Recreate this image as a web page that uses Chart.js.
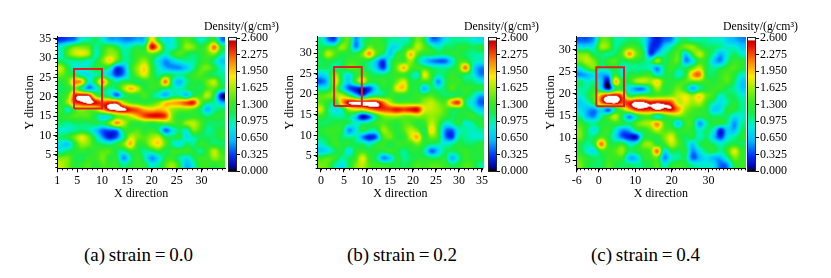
<!DOCTYPE html>
<html>
<head>
<meta charset="utf-8">
<title>Density maps</title>
<script src="https://cdn.jsdelivr.net/npm/chart.js@4/dist/chart.umd.min.js"></script>
<style>
    html, body { margin: 0; padding: 0; background: #fff; overflow: hidden; }
    canvas { position: absolute; top: 0; }
    .caption { position: absolute; top: 244px; font: 19px "Liberation Serif", serif; word-spacing: -1px; color: #000; white-space: nowrap; }
</style>
</head>
<body>
<div class="caption" style="left:84px">(a) strain = 0.0</div>
<div class="caption" style="left:347px">(b) strain = 0.2</div>
<div class="caption" style="left:591px">(c) strain = 0.4</div>
<script>
// density, rows go top to bottom
const densityA = [
    [0.3,0.4,0.5,0.9,1.0,1.1,0.9,0.6,0.6,0.5,0.5,0.6,0.7,1.9,1.2,0.8,0.9,1.2,1.4,1.2,0.9,1.1,1.3,0.5],
    [0.9,1.2,1.5,1.5,1.4,1.0,1.2,1.4,1.2,0.9,1.0,1.2,1.2,2.5,1.9,1.0,0.9,1.2,1.6,1.5,1.2,1.5,2.2,1.2],
    [0.9,1.4,1.7,1.8,1.6,0.9,1.3,1.6,1.5,1.0,1.1,1.3,1.3,1.4,1.2,0.9,1.2,1.4,1.2,1.1,1.2,1.4,1.5,1.0],
    [1.1,1.0,1.0,1.0,0.9,1.1,1.5,1.9,1.4,1.0,1.1,1.4,1.6,1.2,0.8,0.5,0.7,0.9,1.0,1.0,1.2,1.3,1.0,0.7],
    [1.7,1.2,0.9,0.9,1.0,1.2,1.2,1.0,0.3,0.5,1.2,1.6,1.9,1.3,0.9,0.6,0.5,0.5,0.7,1.0,1.4,1.5,1.2,0.9],
    [1.5,1.3,1.2,0.9,0.8,1.0,1.0,0.7,0.3,0.5,1.1,1.5,1.8,1.3,1.0,1.2,1.1,1.0,1.1,1.3,1.4,1.2,1.1,1.0],
    [1.2,1.4,2.1,2.0,0.9,1.3,2.1,1.3,1.0,1.2,1.2,1.1,1.2,1.3,1.3,2.2,1.0,0.6,1.0,1.2,1.2,1.5,1.7,1.1],
    [1.1,1.2,1.5,1.0,0.5,0.8,1.2,1.0,1.1,1.6,2.0,1.7,1.2,1.3,1.2,1.1,1.0,0.9,1.1,1.2,1.1,1.4,1.4,1.1],
    [1.2,1.4,2.4,2.55,2.5,1.5,1.2,1.0,0.4,1.0,1.2,1.2,1.4,1.1,0.9,0.6,1.0,1.0,0.7,1.2,1.3,1.7,1.1,0.1],
    [1.2,1.6,2.3,2.5,2.65,2.5,2.3,2.4,2.4,1.7,1.4,1.3,1.2,1.3,1.5,1.9,2.0,2.1,2.3,2.4,1.5,1.1,1.0,0.6],
    [1.3,0.9,1.4,1.6,1.5,1.6,2.1,2.55,2.65,2.65,2.4,2.25,2.0,1.9,2.0,1.9,1.6,1.5,1.5,1.4,1.1,0.6,1.0,1.1],
    [1.2,1.3,1.4,1.4,1.4,1.1,0.8,0.9,1.4,1.5,1.7,2.0,2.3,2.45,2.45,2.3,1.5,1.2,1.2,1.3,1.2,1.1,1.2,1.2],
    [1.1,1.0,1.1,1.1,1.1,1.2,1.1,1.5,2.1,1.7,1.3,1.2,1.3,1.2,1.3,1.4,1.4,1.3,1.6,1.7,1.4,1.1,1.1,1.1],
    [0.9,0.9,1.0,1.1,1.0,0.7,0.4,0.4,0.5,1.2,1.3,1.4,1.2,1.3,1.1,0.4,0.8,1.1,0.9,1.5,1.3,1.0,1.1,1.2],
    [1.1,1.2,1.5,1.8,1.5,1.0,0.5,0.2,0.4,1.0,1.7,1.5,1.4,1.6,1.7,1.2,1.1,1.2,0.8,1.0,1.1,1.1,1.1,1.2],
    [0.8,0.7,1.2,1.6,1.5,1.2,1.1,1.0,1.2,1.5,2.0,1.3,1.3,1.7,1.9,1.4,1.0,0.8,1.1,1.0,1.3,1.2,1.1,1.1],
    [0.9,1.1,1.2,1.3,1.2,1.3,1.4,1.4,1.1,1.0,1.3,1.2,1.0,1.1,1.3,1.1,1.3,1.3,1.3,1.2,1.0,1.3,1.7,1.3],
    [1.5,1.5,1.2,1.1,1.3,1.3,1.5,1.2,1.2,0.5,1.0,1.3,1.0,0.5,0.8,1.2,1.3,1.0,0.8,1.1,1.3,1.3,1.6,1.4],
    [1.7,1.5,1.2,1.3,1.4,1.2,1.4,1.3,1.3,1.0,1.2,1.3,1.2,0.9,1.0,1.4,1.6,1.2,0.6,0.9,1.3,1.3,1.2,1.3]
];
const densityB = [
    [1.0,0.5,0.4,1.2,1.4,0.5,1.0,1.2,1.3,1.2,1.0,1.0,0.9,1.1,1.5,1.2,0.5,0.5,0.8,1.0,1.0,1.0,0.9,0.8],
    [1.1,1.2,1.2,1.6,1.3,0.5,1.0,1.5,1.3,1.3,0.8,0.8,1.1,1.3,1.7,1.4,1.1,0.9,1.1,1.1,1.2,1.2,1.1,1.2],
    [1.2,1.7,1.4,1.2,1.2,1.2,1.5,2.1,1.4,1.1,0.7,1.2,1.3,2.0,1.4,1.2,1.2,1.1,1.1,1.2,1.2,1.1,1.0,1.0],
    [1.1,1.2,1.1,1.1,1.3,1.3,1.2,1.1,0.7,0.3,1.0,1.3,1.3,1.6,1.1,0.7,0.5,0.4,0.4,0.8,1.3,1.3,1.0,0.9],
    [1.1,1.1,1.0,1.1,1.4,1.4,1.2,1.0,0.7,0.3,1.0,1.5,2.0,1.4,1.3,1.3,1.1,1.0,1.0,1.1,1.4,2.2,0.9,0.5],
    [0.7,0.9,1.6,1.1,0.8,1.2,1.4,1.2,1.1,1.1,1.2,1.3,1.3,1.1,0.9,1.8,1.3,1.0,1.1,1.3,1.2,1.1,0.9,0.5],
    [0.4,0.7,1.8,1.1,0.7,1.3,1.8,1.2,1.2,1.3,1.2,1.5,1.8,1.2,1.2,1.3,1.2,0.5,1.1,1.3,1.3,1.1,1.1,0.9],
    [0.9,1.0,1.5,0.9,0.4,0.2,0.15,0.3,0.8,1.2,1.2,1.8,1.9,1.2,1.2,0.6,1.1,1.0,1.1,1.4,1.2,1.3,1.2,1.2],
    [1.4,1.5,1.6,1.7,1.3,0.8,0.4,0.9,1.1,1.1,1.3,1.2,1.2,1.2,1.3,1.3,1.4,1.2,1.1,1.1,1.2,1.2,1.0,0.6],
    [1.4,1.2,1.1,2.0,2.55,2.65,2.65,2.65,2.6,2.2,1.7,1.4,1.4,1.4,1.4,1.6,1.7,1.5,1.4,2.1,2.3,1.1,0.8,0.4],
    [1.7,1.1,0.8,1.0,1.6,1.8,1.8,2.1,2.3,2.35,2.35,2.45,2.35,2.45,2.5,1.8,1.7,1.6,1.4,1.2,1.2,1.2,1.0,0.7],
    [1.3,1.1,1.0,1.0,1.1,0.7,0.1,0.4,1.1,1.5,1.6,1.6,1.5,1.5,1.6,1.5,1.6,1.5,1.3,1.1,1.2,1.2,1.3,1.1],
    [1.1,1.1,1.2,1.2,1.1,0.9,1.0,1.1,1.3,1.4,1.3,1.2,1.4,1.4,1.2,1.3,1.7,1.4,0.9,1.0,1.2,0.9,1.0,1.2],
    [1.2,1.3,1.3,1.2,0.5,0.8,1.2,1.0,1.0,1.6,1.4,1.2,1.4,1.7,1.5,1.1,1.9,1.3,0.5,0.4,0.9,1.0,0.9,1.0],
    [1.1,1.2,1.3,1.1,1.0,1.0,0.5,0.2,0.4,1.3,1.5,1.2,1.2,1.7,2.0,1.2,1.5,1.3,0.5,0.3,1.0,1.0,0.9,0.9],
    [0.9,1.1,1.3,1.2,1.2,1.1,1.1,0.9,1.2,1.3,1.1,1.3,1.3,1.3,1.5,1.2,1.1,1.0,0.9,1.0,1.2,1.1,1.1,1.2],
    [0.7,0.8,1.1,1.2,0.8,1.2,1.3,1.2,1.2,1.2,1.3,1.2,1.0,1.2,1.2,1.0,0.4,0.7,1.1,1.1,1.2,1.3,1.2,1.2],
    [1.3,1.4,1.3,1.0,1.1,1.3,1.8,1.3,1.1,0.5,0.7,1.2,1.0,1.1,1.2,1.2,1.1,1.1,1.2,0.6,1.0,1.3,1.2,1.2],
    [1.5,1.4,1.0,0.8,1.1,1.5,1.7,1.4,1.3,1.3,1.2,1.2,1.1,1.2,1.4,1.3,1.4,1.4,1.3,1.1,1.2,1.4,1.3,1.0]
];
const densityC = [
    [0.4,0.4,0.6,1.4,1.4,1.0,1.0,1.1,1.1,0.9,0.4,0.2,0.4,0.5,1.0,1.1,1.0,1.0,1.0,0.9,0.9,0.7,0.6,0.5],
    [0.8,0.8,0.9,1.6,1.5,1.0,1.2,1.4,1.3,1.0,0.3,0.3,0.7,1.0,1.3,1.5,1.6,1.3,1.1,1.1,1.0,0.9,0.9,0.7],
    [1.5,1.5,1.1,1.1,1.0,1.1,1.4,2.1,1.5,1.2,0.3,0.7,1.0,1.2,1.4,0.7,1.3,1.7,1.3,1.0,0.6,0.9,1.1,0.9],
    [1.5,1.7,1.5,1.1,1.3,1.4,1.1,1.2,1.2,1.1,1.0,1.6,1.1,1.3,1.4,0.5,0.8,1.3,1.2,0.7,0.5,1.0,1.3,1.2],
    [0.9,1.3,1.5,1.0,1.1,1.2,0.9,1.0,1.0,1.0,0.9,0.5,1.1,1.3,1.1,1.1,1.4,1.7,1.2,1.0,1.1,1.3,1.4,1.2],
    [0.5,0.6,0.8,0.6,0.6,1.3,0.9,1.2,1.2,1.3,1.3,0.9,1.1,1.2,0.9,1.2,2.0,2.2,1.2,1.1,1.3,1.4,1.2,0.9],
    [1.1,0.9,1.0,0.7,0.1,2.0,1.2,1.2,1.6,1.7,1.6,1.9,1.3,1.2,1.3,1.4,1.4,1.4,1.3,1.2,1.3,1.4,1.1,0.7],
    [1.0,1.0,1.2,0.8,0.15,1.1,1.2,0.8,0.5,0.5,1.1,1.6,1.2,1.3,1.5,1.2,0.6,1.0,1.2,1.3,1.3,1.1,1.0,0.7],
    [0.9,1.1,1.4,2.1,2.5,2.55,2.2,1.2,1.3,1.4,1.3,1.4,1.4,1.5,1.7,1.8,1.6,1.9,1.5,1.3,0.9,1.1,1.1,0.9],
    [0.7,0.9,1.3,2.2,2.6,2.65,2.3,2.4,2.65,2.6,2.45,2.5,2.45,2.3,1.7,1.8,1.6,1.7,1.3,1.0,0.8,1.0,1.2,1.0],
    [0.8,0.6,0.5,0.8,0.4,1.1,1.5,2.0,2.4,2.45,2.4,2.6,2.45,2.5,2.1,1.6,1.4,1.3,1.2,0.7,0.8,1.2,1.2,1.0],
    [1.0,0.6,0.5,1.0,1.3,1.7,1.1,0.5,1.0,1.3,1.3,0.8,1.2,1.4,1.5,1.4,1.3,1.2,1.2,1.1,1.1,1.1,0.8,0.9],
    [1.3,1.1,1.0,1.2,1.2,1.3,1.2,1.1,1.4,1.6,1.7,2.1,1.4,1.2,0.7,1.3,1.3,0.5,1.0,1.2,1.2,1.0,0.5,1.0],
    [1.5,1.1,0.8,1.2,1.3,0.9,0.5,0.6,1.1,1.2,1.4,1.7,1.4,1.4,1.2,1.3,1.2,0.9,1.1,0.9,0.2,0.7,0.6,1.1],
    [1.5,1.1,1.1,1.4,1.2,0.8,0.4,0.2,0.15,1.1,1.2,1.2,1.5,1.8,1.3,1.1,1.2,0.9,1.1,0.7,0.3,0.8,1.0,1.2],
    [1.2,1.0,1.2,2.2,1.3,1.2,1.3,0.9,1.0,1.5,1.6,1.2,1.3,1.7,1.4,1.1,0.7,1.1,1.2,1.1,0.9,1.1,1.2,1.1],
    [1.2,0.9,0.8,1.3,1.3,1.4,1.6,1.1,1.2,1.3,1.4,2.2,0.8,1.2,1.1,1.2,0.5,0.8,1.1,1.2,1.0,1.3,1.8,1.3],
    [1.4,1.2,1.1,1.1,1.3,1.3,1.3,0.6,0.7,1.2,1.3,1.4,0.5,0.9,1.0,1.1,0.4,0.6,0.8,0.6,0.6,1.0,1.5,1.3],
    [1.5,1.2,1.1,1.1,1.4,1.2,1.1,1.1,1.0,1.1,1.2,1.4,0.9,1.2,1.3,1.2,1.0,0.9,0.9,0.8,0.4,0.5,1.2,1.3]
];

const xTicksA = [1, 5, 10, 15, 20, 25, 30];
const yTicksA = [5, 10, 15, 20, 25, 30, 35];
const xTicksB = [0, 5, 10, 15, 20, 25, 30, 35];
const yTicksB = [5, 10, 15, 20, 25, 30];
const xTicksC = [-6, 0, 10, 20, 30];
const yTicksC = [5, 10, 15, 20, 25, 30];
const colorbarTicks = [0, 0.325, 0.65, 0.975, 1.3, 1.625, 1.95, 2.275, 2.6];

// red boxes: [x1, x2, y1, y2]
const boxA = [4.35, 9.98, 17.0, 27.2];
const boxB = [2.86, 8.88, 17.14, 26.6];
const boxC = [-0.64, 6.93, 17.2, 26.0];

const palette = [
    [0, 0, 0, 0], [0.08, 0, 0, 170], [0.3, 0, 50, 255], [0.6, 0, 190, 255], [0.85, 0, 235, 225],
    [1.0, 0, 245, 150], [1.15, 25, 235, 70], [1.35, 60, 235, 30], [1.6, 150, 240, 0], [1.85, 255, 235, 0],
    [2.15, 255, 130, 0], [2.45, 235, 10, 0], [2.54, 200, 0, 0], [2.57, 255, 255, 255], [2.7, 255, 255, 255]
];

const fontFamily = '"Liberation Serif", serif';

function colorFor(v) {
    if (v <= 0) return palette[0].slice(1);
    for (let i = 1; i < palette.length; i++) {
        if (v <= palette[i][0]) {
            const a = palette[i - 1], b = palette[i];
            const t = (v - a[0]) / (b[0] - a[0]);
            return [a[1] + (b[1] - a[1]) * t, a[2] + (b[2] - a[2]) * t, a[3] + (b[3] - a[3]) * t];
        }
    }
    return [255, 255, 255];
}

function cubic(p0, p1, p2, p3, t) {
    return p1 + 0.5 * t * (p2 - p0 + t * (2 * p0 - 5 * p1 + 4 * p2 - p3 + t * (3 * (p1 - p2) + p3 - p0)));
}

// smooth reading of the grid at a fractional cell position, only used for shading
function readGrid(grid, col, row) {
    const rows = grid.length, cols = grid[0].length;
    const c = Math.floor(col), r = Math.floor(row);
    const line = i => {
        const g = grid[Math.min(rows - 1, Math.max(0, r + i))];
        const at = k => g[Math.min(cols - 1, Math.max(0, c + k))];
        return cubic(at(-1), at(0), at(1), at(2), col - c);
    };
    return cubic(line(-1), line(0), line(1), line(2), row - r);
}

const heatmapPlugin = {
    id: 'heatmap',
    beforeDraw(chart, args, opts) {
        const { left, top, width, height } = chart.chartArea;
        const w = Math.ceil(width), h = Math.ceil(height);
        const { x, y } = chart.scales;
        const grid = opts.grid;
        const rows = grid.length, cols = grid[0].length;
        const off = document.createElement('canvas');
        off.width = w;
        off.height = h;
        const octx = off.getContext('2d');
        const img = octx.createImageData(w, h);
        for (let j = 0; j < h; j++) {
            const row = (y.max - y.getValueForPixel(top + j + 0.5)) / (y.max - y.min) * rows - 0.5;
            for (let i = 0; i < w; i++) {
                const col = (x.getValueForPixel(left + i + 0.5) - x.min) / (x.max - x.min) * cols - 0.5;
                const rgb = colorFor(readGrid(grid, col, row));
                const k = (j * w + i) * 4;
                img.data[k] = rgb[0];
                img.data[k + 1] = rgb[1];
                img.data[k + 2] = rgb[2];
                img.data[k + 3] = 255;
            }
        }
        octx.putImageData(img, 0, 0);
        chart.ctx.drawImage(off, left, top);
    }
};

// small ticks, one per unit
const minorTicksPlugin = {
    id: 'minorTicks',
    afterDraw(chart) {
        const { ctx, chartArea } = chart;
        const { x, y } = chart.scales;
        ctx.save();
        ctx.strokeStyle = '#000';
        ctx.lineWidth = 1;
        ctx.beginPath();
        for (let v = Math.ceil(x.min); v <= x.max; v++) {
            const px = Math.round(x.getPixelForValue(v)) + 0.5;
            ctx.moveTo(px, chartArea.bottom);
            ctx.lineTo(px, chartArea.bottom + 2);
        }
        for (let v = Math.ceil(y.min); v <= y.max; v++) {
            const py = Math.round(y.getPixelForValue(v)) + 0.5;
            ctx.moveTo(chartArea.left, py);
            ctx.lineTo(chartArea.left - 2, py);
        }
        ctx.stroke();
        ctx.restore();
    }
};

const colorbarPlugin = {
    id: 'colorbar',
    beforeDraw(chart) {
        const { ctx, chartArea } = chart;
        const scale = chart.scales.y;
        for (let py = Math.floor(chartArea.top); py < chartArea.bottom; py++) {
            const rgb = colorFor(scale.getValueForPixel(py + 0.5));
            ctx.fillStyle = `rgb(${rgb[0]},${rgb[1]},${rgb[2]})`;
            ctx.fillRect(chartArea.left, py, chartArea.width, 1);
        }
    },
    afterDraw(chart) {
        const { ctx, chartArea } = chart;
        ctx.save();
        ctx.strokeStyle = '#222';
        ctx.lineWidth = 1;
        ctx.strokeRect(chartArea.left - 0.5, chartArea.top - 0.5, chartArea.width + 1, chartArea.height + 1);
        ctx.restore();
    }
};

function addCanvas(left, width, height) {
    const canvas = document.createElement('canvas');
    canvas.style.left = left + 'px';
    canvas.width = width;
    canvas.height = height;
    canvas.style.width = width + 'px';
    canvas.style.height = height + 'px';
    document.body.appendChild(canvas);
    return canvas;
}

function axisOptions(min, max, ticks, title, pos, fit) {
    return {
        type: 'linear',
        position: pos,
        min: min,
        max: max,
        afterBuildTicks: s => { s.ticks = ticks.map(v => ({ value: v })); },
        afterFit: fit,
        grid: { display: true, drawOnChartArea: false, drawTicks: true, tickLength: 4, tickColor: '#000' },
        border: { display: true, color: '#000', width: 1 },
        ticks: {
            autoSkip: false,
            maxRotation: 0,
            padding: pos === 'bottom' ? 1 : 2,
            color: '#000',
            font: { family: fontFamily, size: 12 },
            callback: v => String(v)
        },
        title: {
            display: true,
            text: title,
            color: '#000',
            padding: 0,
            font: { family: fontFamily, size: 12 }
        }
    };
}

function drawPanel(p) {
    const canvasLeft = Math.floor(p.plotLeft - p.axisGap);
    const canvasWidth = Math.ceil(p.plotRight) - canvasLeft + 4;
    const top = 36.7, bottom = 168.3, xAxisHeight = 33;
    const canvas = addCanvas(canvasLeft, canvasWidth, 210);
    new Chart(canvas, {
        type: 'scatter',
        data: {
            datasets: [{
                data: [
                    { x: p.box[0], y: p.box[2] }, { x: p.box[1], y: p.box[2] },
                    { x: p.box[1], y: p.box[3] }, { x: p.box[0], y: p.box[3] },
                    { x: p.box[0], y: p.box[2] }
                ],
                showLine: true,
                borderColor: '#e11d24',
                borderWidth: 2,
                pointRadius: 0,
                tension: 0
            }]
        },
        options: {
            responsive: false,
            animation: false,
            layout: { padding: { left: 0, top: top, right: canvasWidth - (p.plotRight - canvasLeft), bottom: 210 - bottom - xAxisHeight } },
            plugins: { legend: { display: false }, tooltip: { enabled: false }, heatmap: { grid: p.grid } },
            scales: {
                x: axisOptions(p.xRange[0], p.xRange[1], p.xTicks, 'X direction', 'bottom', s => { s.height = xAxisHeight; }),
                y: axisOptions(p.yRange[0], p.yRange[1], p.yTicks, 'Y direction', 'left', s => { s.width = p.plotLeft - canvasLeft; })
            }
        },
        plugins: [heatmapPlugin, minorTicksPlugin]
    });

    // colorbar, its own small chart next to the map
    const barCanvas = addCanvas(p.barLeft - 25, 75, 180);
    new Chart(barCanvas, {
        type: 'scatter',
        data: { datasets: [] },
        options: {
            responsive: false,
            animation: false,
            layout: { padding: { left: 0, top: 0, right: 0, bottom: 9 } },
            plugins: {
                legend: { display: false },
                tooltip: { enabled: false },
                title: {
                    display: true,
                    text: 'Density/(g/cm³)',
                    color: '#000',
                    padding: { top: 20, bottom: 3.6 },
                    font: { family: fontFamily, size: 12, weight: 'normal', lineHeight: 1.2 }
                }
            },
            scales: {
                x: { display: false },
                // empty axis, only holds the left margin so the title keeps the full width
                pad: {
                    axis: 'y',
                    position: 'left',
                    min: 0,
                    max: 2.6,
                    afterFit: s => { s.width = 25; },
                    grid: { display: false },
                    border: { display: false },
                    ticks: { display: false }
                },
                y: {
                    position: 'right',
                    min: 0,
                    max: 2.6,
                    afterBuildTicks: s => { s.ticks = colorbarTicks.map(v => ({ value: v })); },
                    afterFit: s => { s.width = 43; },
                    grid: { display: true, drawOnChartArea: false, tickLength: 4, tickColor: '#000' },
                    border: { display: false },
                    ticks: {
                        autoSkip: false,
                        padding: 1,
                        color: '#000',
                        font: { family: fontFamily, size: 12 },
                        callback: v => v.toFixed(3)
                    }
                }
            }
        },
        plugins: [colorbarPlugin]
    });
}

drawPanel({ grid: densityA, plotLeft: 57.3, plotRight: 225, axisGap: 34, barLeft: 229,
    xRange: [1, 34.7], yRange: [1.56, 35.5], xTicks: xTicksA, yTicks: yTicksA, box: boxA });
drawPanel({ grid: densityB, plotLeft: 317.7, plotRight: 485, axisGap: 34, barLeft: 489,
    xRange: [-0.7, 35.2], yRange: [2.0, 33.96], xTicks: xTicksB, yTicks: yTicksB, box: boxB });
drawPanel({ grid: densityC, plotLeft: 576.7, plotRight: 745, axisGap: 32, barLeft: 748,
    xRange: [-6, 40], yRange: [3.2, 32.9], xTicks: xTicksC, yTicks: yTicksC, box: boxC });
</script>
</body>
</html>
